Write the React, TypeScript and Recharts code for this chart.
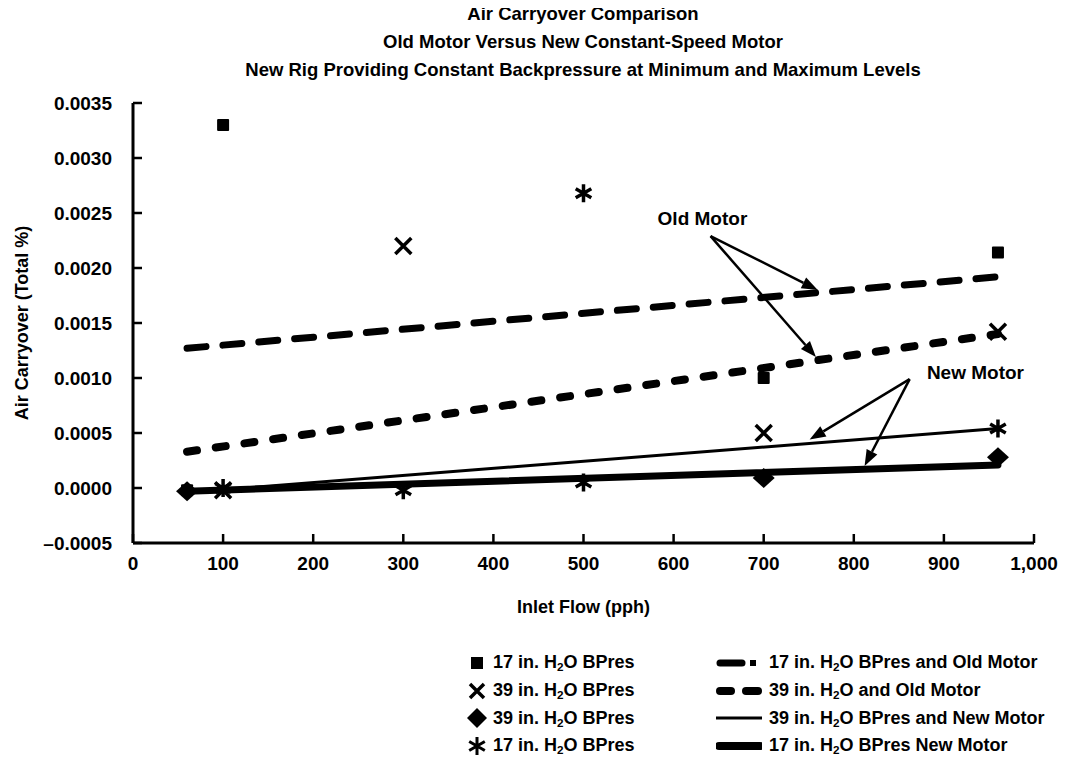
import {
  ComposedChart,
  Line,
  ReferenceDot,
  ReferenceLine,
  Scatter,
  XAxis,
  YAxis,
} from "recharts";

const FONT = '"Liberation Sans", Arial, sans-serif';

const TITLE_LINES = [
  "Air Carryover Comparison",
  "Old Motor Versus New Constant-Speed Motor",
  "New Rig Providing Constant Backpressure at Minimum and Maximum Levels",
];

const FLOW_TICKS = [0, 100, 200, 300, 400, 500, 600, 700, 800, 900, 1000];
const CARRY_TICKS = [-0.0005, 0, 0.0005, 0.001, 0.0015, 0.002, 0.0025, 0.003, 0.0035];

// measured points
const sq17Flow = [60, 100, 700, 960];
const sq17Carry = [-0.00002, 0.0033, 0.001, 0.00214];

const x39Flow = [100, 300, 700, 960];
const x39Carry = [-0.00002, 0.0022, 0.0005, 0.00142];

const dia39Flow = [60, 700, 960];
const dia39Carry = [-0.00003, 0.00009, 0.00028];

const star17Flow = [100, 300, 500, 500, 960];
const star17Carry = [0, -0.00002, 0.00005, 0.00268, 0.00054];

// trend lines
const trendFlow = [60, 960];
const old17Trend = [0.00127, 0.00192];
const old39Trend = [0.00033, 0.0014];
const new39Trend = [-0.00004, 0.00054];
const new17Trend = [-0.00003, 0.00021];

// annotations (data units)
const oldMotorLabel = { x: 632, y: 0.00245 };
const oldMotorFrom = { x: 641, y: 0.00229 };
const oldMotorTips = [
  { x: 760, y: 0.0018 },
  { x: 758, y: 0.00119 },
];
const newMotorLabel = { x: 935, y: 0.00105 };
const newMotorFrom = { x: 862, y: 0.00099 };
const newMotorTips = [
  { x: 751, y: 0.00044 },
  { x: 812, y: 0.0002 },
];

const LEGEND_MARKERS = ["17 in. H|O BPres", "39 in. H|O BPres", "39 in. H|O BPres", "17 in. H|O BPres"];
const LEGEND_LINES = [
  "17 in. H|O BPres and Old Motor",
  "39 in. H|O and Old Motor",
  "39 in. H|O BPres and New Motor",
  "17 in. H|O BPres New Motor",
];

const pts = (xs: number[], ys: number[]) => xs.map((x, i) => ({ x, y: ys[i] }));

function SquareMark({ cx, cy }: any) {
  return <rect x={cx - 6} y={cy - 6} width={12} height={12} rx={1} fill="#000" />;
}
function XMark({ cx, cy }: any) {
  const s = 8;
  return (
    <path
      d={`M${cx - s},${cy - s}L${cx + s},${cy + s}M${cx + s},${cy - s}L${cx - s},${cy + s}`}
      stroke="#000"
      strokeWidth={3.5}
    />
  );
}
function DiamondMark({ cx, cy }: any) {
  return <polygon points={`${cx},${cy - 10} ${cx + 11},${cy} ${cx},${cy + 10} ${cx - 11},${cy}`} fill="#000" />;
}
function StarMark({ cx, cy }: any) {
  const r = 9;
  const dx = r * Math.cos(Math.PI / 6);
  const dy = r * Math.sin(Math.PI / 6);
  return (
    <path
      d={`M${cx},${cy - r}L${cx},${cy + r}M${cx - dx},${cy - dy}L${cx + dx},${cy + dy}M${cx + dx},${cy - dy}L${cx - dx},${cy + dy}`}
      stroke="#000"
      strokeWidth={3.5}
    />
  );
}

function Arrow({ x1, y1, x2, y2 }: any) {
  const a = Math.atan2(y2 - y1, x2 - x1);
  const len = 16;
  const half = 6;
  const bx = x2 - len * Math.cos(a);
  const by = y2 - len * Math.sin(a);
  const px = -Math.sin(a) * half;
  const py = Math.cos(a) * half;
  return (
    <g>
      <line x1={x1} y1={y1} x2={bx} y2={by} stroke="#000" strokeWidth={2.5} />
      <polygon points={`${x2},${y2} ${bx + px},${by + py} ${bx - px},${by - py}`} fill="#000" />
    </g>
  );
}

const noteText = (text: string) => ({ cx, cy }: any) => (
  <text x={cx} y={cy} textAnchor="middle" dominantBaseline="central" fontFamily={FONT} fontWeight={700} fontSize={19} fill="#000">
    {text}
  </text>
);

function H2O({ text }: { text: string }) {
  const [a, b] = text.split("|");
  return (
    <span style={{ whiteSpace: "nowrap" }}>
      {a}
      <sub style={{ fontSize: "0.65em", verticalAlign: "-0.25em" }}>2</sub>
      {b}
    </span>
  );
}

const markerIcons = [
  <rect key="s" x={4} y={4} width={12} height={12} fill="#000" />,
  <path key="x" d="M3,3L17,17M17,3L3,17" stroke="#000" strokeWidth={3.5} />,
  <polygon key="d" points="10,0 20,10 10,20 0,10" fill="#000" />,
  <path key="a" d="M10,1L10,19M2.2,5.5L17.8,14.5M17.8,5.5L2.2,14.5" stroke="#000" strokeWidth={3} />,
];
const lineIcons = [
  <g key="1">
    <line x1={4} y1={10} x2={26} y2={10} stroke="#000" strokeWidth={7} strokeLinecap="round" />
    <rect x={34} y={7} width={6} height={6} fill="#000" />
  </g>,
  <g key="2">
    <line x1={4} y1={10} x2={15} y2={10} stroke="#000" strokeWidth={8} strokeLinecap="round" />
    <line x1={30} y1={10} x2={42} y2={10} stroke="#000" strokeWidth={8} strokeLinecap="round" />
  </g>,
  <line key="3" x1={0} y1={10} x2={46} y2={10} stroke="#000" strokeWidth={3} />,
  <line key="4" x1={3} y1={10} x2={44} y2={10} stroke="#000" strokeWidth={8} strokeLinecap="round" />,
];

const fmtCarry = (v: number) => (v < 0 ? "\u2013" + Math.abs(v).toFixed(4) : v.toFixed(4));
const fmtFlow = (v: number) => (v === 1000 ? "1,000" : String(v));

const tickStyle = { fill: "#000", fontSize: 19, fontWeight: 700, fontFamily: FONT };
const axisLabelStyle = { fill: "#000", fontSize: 18, fontWeight: 700, fontFamily: FONT };

export default function App() {
  const rowH = 27.7;
  return (
    <div style={{ position: "relative", width: 1060, height: 760, fontFamily: FONT, color: "#000" }}>
      <div
        style={{
          position: "absolute",
          top: -8,
          left: 0,
          width: 1150,
          textAlign: "center",
          fontWeight: 700,
          fontSize: 18.5,
          lineHeight: "28px",
        }}
      >
        {TITLE_LINES.map((t) => (
          <div key={t}>{t}</div>
        ))}
      </div>
      <ComposedChart width={1060} height={620} margin={{ top: 95, right: 34, left: 0, bottom: 5 }}>
        <XAxis
          dataKey="x"
          type="number"
          domain={[0, 1000]}
          ticks={FLOW_TICKS}
          tickFormatter={fmtFlow}
          tick={tickStyle}
          tickSize={-9}
          tickMargin={23}
          tickLine={{ stroke: "#000", strokeWidth: 2.5 }}
          axisLine={{ stroke: "#000", strokeWidth: 3 }}
          height={80}
          label={{ value: "Inlet Flow (pph)", position: "insideBottom", offset: 10, style: axisLabelStyle }}
        />
        <XAxis
          xAxisId="top"
          orientation="top"
          type="number"
          domain={[0, 1000]}
          tick={false}
          tickLine={false}
          height={0}
          axisLine={{ stroke: "#000", strokeWidth: 3 }}
        />
        <YAxis
          dataKey="y"
          type="number"
          domain={[-0.0005, 0.0035]}
          ticks={CARRY_TICKS}
          tickFormatter={fmtCarry}
          tick={tickStyle}
          tickSize={-9}
          tickMargin={30}
          tickLine={{ stroke: "#000", strokeWidth: 2.5 }}
          axisLine={{ stroke: "#000", strokeWidth: 3 }}
          width={125}
          label={{
            value: "Air Carryover (Total %)",
            angle: -90,
            position: "insideLeft",
            offset: 14,
            style: { ...axisLabelStyle, textAnchor: "middle" },
          }}
        />
        <YAxis
          yAxisId="right"
          orientation="right"
          type="number"
          domain={[-0.0005, 0.0035]}
          tick={false}
          tickLine={false}
          width={0}
          axisLine={{ stroke: "#000", strokeWidth: 3 }}
        />

        <Line data={pts(trendFlow, old17Trend)} dataKey="y" stroke="#000" strokeWidth={7} strokeDasharray="19 17" strokeLinecap="round" dot={false} isAnimationActive={false} />
        <Line data={pts(trendFlow, old39Trend)} dataKey="y" stroke="#000" strokeWidth={8} strokeDasharray="10 19" strokeLinecap="round" dot={false} isAnimationActive={false} />
        <Line data={pts(trendFlow, new39Trend)} dataKey="y" stroke="#000" strokeWidth={3} dot={false} isAnimationActive={false} />
        <Line data={pts(trendFlow, new17Trend)} dataKey="y" stroke="#000" strokeWidth={7} strokeLinecap="round" dot={false} isAnimationActive={false} />

        <Scatter data={pts(sq17Flow, sq17Carry)} dataKey="y" shape={SquareMark} isAnimationActive={false} />
        <Scatter data={pts(x39Flow, x39Carry)} dataKey="y" shape={XMark} isAnimationActive={false} />
        <Scatter data={pts(dia39Flow, dia39Carry)} dataKey="y" shape={DiamondMark} isAnimationActive={false} />
        <Scatter data={pts(star17Flow, star17Carry)} dataKey="y" shape={StarMark} isAnimationActive={false} />

        {oldMotorTips.map((t, i) => (
          <ReferenceLine key={"o" + i} segment={[oldMotorFrom, t]} shape={Arrow} ifOverflow="visible" />
        ))}
        {newMotorTips.map((t, i) => (
          <ReferenceLine key={"n" + i} segment={[newMotorFrom, t]} shape={Arrow} ifOverflow="visible" />
        ))}
        <ReferenceDot x={oldMotorLabel.x} y={oldMotorLabel.y} r={0} shape={noteText("Old Motor")} ifOverflow="visible" />
        <ReferenceDot x={newMotorLabel.x} y={newMotorLabel.y} r={0} shape={noteText("New Motor")} ifOverflow="visible" />
      </ComposedChart>

      <div style={{ position: "absolute", top: 641, left: 459, fontSize: 18, fontWeight: 700 }}>
        {LEGEND_MARKERS.map((t, i) => (
          <div key={i} style={{ display: "flex", alignItems: "center", height: rowH }}>
            <svg width={20} height={20} style={{ marginRight: 6 }}>
              {markerIcons[i]}
            </svg>
            <H2O text={t} />
          </div>
        ))}
      </div>
      <div style={{ position: "absolute", top: 641, left: 708, fontSize: 18, fontWeight: 700 }}>
        {LEGEND_LINES.map((t, i) => (
          <div key={i} style={{ display: "flex", alignItems: "center", height: rowH }}>
            <svg width={46} height={20} style={{ marginRight: 7 }}>
              {lineIcons[i]}
            </svg>
            <H2O text={t} />
          </div>
        ))}
      </div>
    </div>
  );
}
